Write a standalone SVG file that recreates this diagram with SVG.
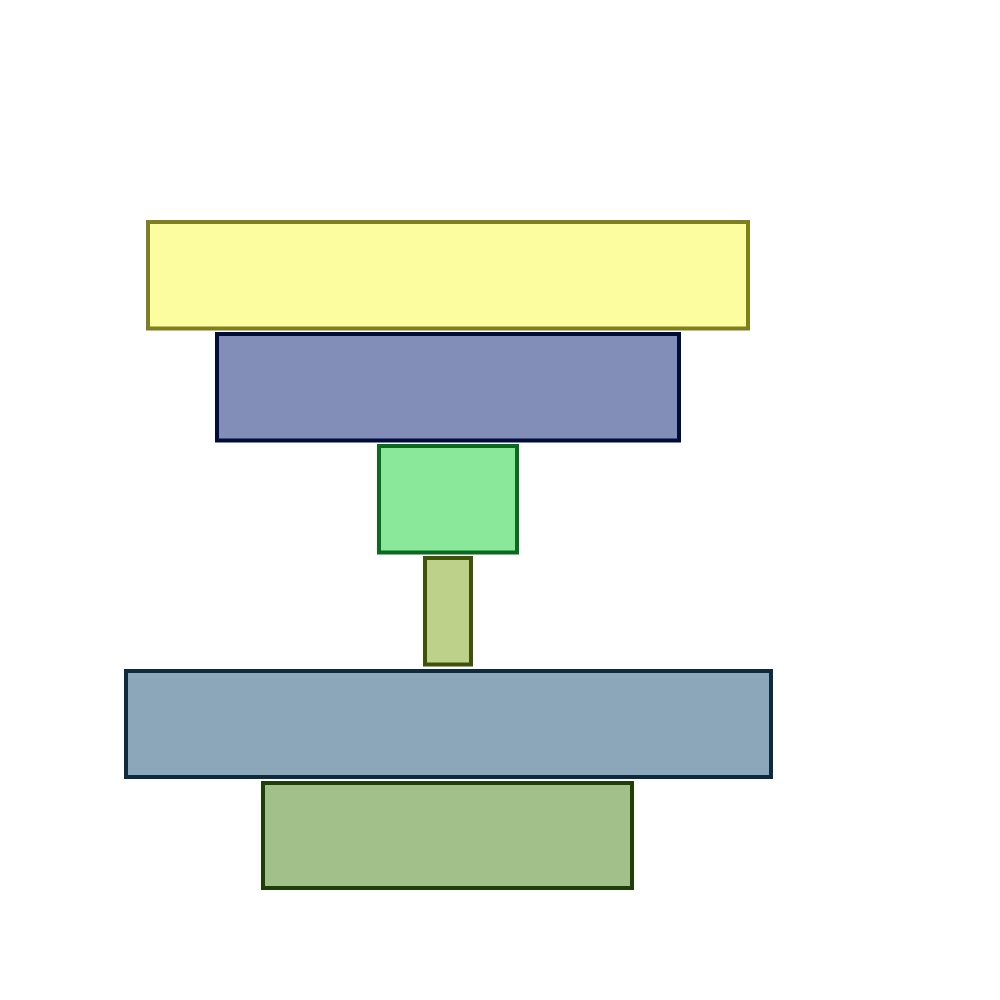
<svg xmlns="http://www.w3.org/2000/svg" width="1000" height="1000" viewBox="0 0 1000 1000">
<style>
.s{stroke-width:4}
</style>
<rect width="1000" height="1000" fill="#ffffff"/>
<g id="stage1"><rect class="s" x="148" y="222" width="600" height="106.5" fill="#fcfd9e" stroke="#7f7f22"/></g>
<g id="stage2"><rect class="s" x="217" y="334" width="462" height="106.5" fill="#828eb7" stroke="#000c3a"/></g>
<g id="stage3"><rect class="s" x="379" y="446" width="138" height="106.5" fill="#8ae89b" stroke="#0a6a1f"/></g>
<g id="stage4"><rect class="s" x="425" y="558" width="46" height="106.5" fill="#bed18b" stroke="#3e5209"/></g>
<g id="stage5"><rect class="s" x="126" y="671" width="645" height="106" fill="#8ca7b9" stroke="#0e2a3e"/></g>
<g id="stage6"><rect class="s" x="263" y="783" width="369" height="105" fill="#a1c08a" stroke="#1e3e0a"/></g>
<g id="connectors"></g>
</svg>
